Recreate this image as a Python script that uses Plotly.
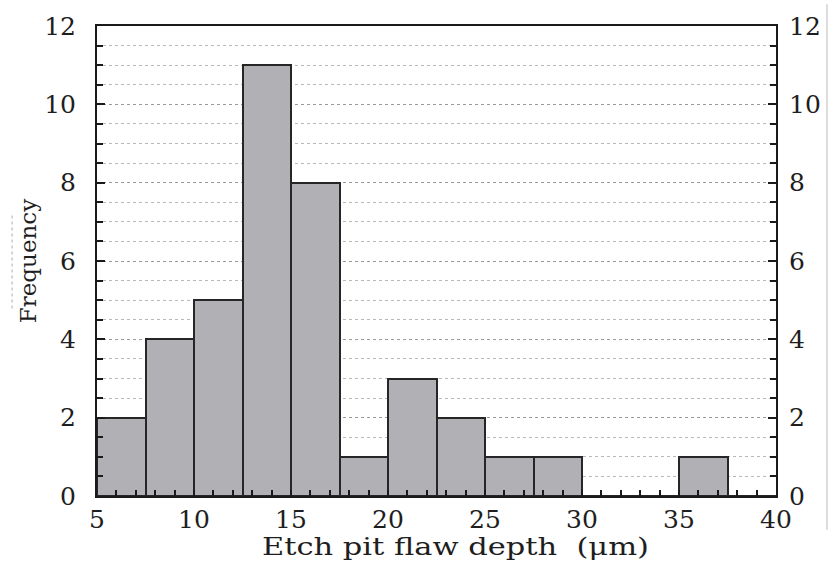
import plotly.graph_objects as go

bin_left = [5, 7.5, 10, 12.5, 15, 17.5, 20, 22.5, 25, 27.5, 30, 32.5, 35, 37.5]
counts = [2, 4, 5, 11, 8, 1, 3, 2, 1, 1, 0, 0, 1, 0]
bin_width = 2.5
x_ticks = [5, 10, 15, 20, 25, 30, 35, 40]
y_ticks = [0, 2, 4, 6, 8, 10, 12]
x_title = "Etch pit flaw depth  (μm)"
y_title = "Frequency"

centers = [b + bin_width / 2 for b in bin_left]

FONT = "DejaVu Serif"
TXT = "#1e1e1e"

fig = go.Figure()
fig.add_trace(go.Bar(
    x=centers, y=counts, width=[bin_width] * len(counts),
    marker=dict(color="#b1b1b5", line=dict(color="#262626", width=2)),
    showlegend=False, hoverinfo="x+y",
))
fig.add_trace(go.Scatter(x=[5, 40], y=[0, 12], yaxis="y2", mode="markers",
                         marker=dict(opacity=0), showlegend=False, hoverinfo="skip"))

L, R, T, B = 97, 56, 22, 67
W, H = 833, 563
pw, ph = W - L - R, H - T - B

def px_x(px):
    return (px - L) / pw

def px_y(py):
    return (H - B - py) / ph

fig.update_layout(
    width=W, height=H,
    margin=dict(l=L, r=R, t=T, b=B),
    plot_bgcolor="white", paper_bgcolor="white",
    bargap=0,
    font=dict(family=FONT, size=25, color=TXT),
    xaxis=dict(
        range=[5, 40], tickvals=x_ticks, ticktext=[str(v) for v in x_ticks],
        showline=True, linecolor="#1a1a1a", linewidth=2, mirror=True,
        ticks="inside", ticklen=6, tickwidth=2, tickcolor="#1a1a1a",
        minor=dict(dtick=1, ticks="inside", ticklen=6, tickwidth=1.5, tickcolor="#1a1a1a", showgrid=False),
        showgrid=False, zeroline=False,
        tickfont=dict(family=FONT, size=25, color=TXT),
    ),
    yaxis=dict(
        range=[0, 12], tickvals=y_ticks,
        showline=True, linecolor="#1a1a1a", linewidth=2, mirror=True,
        ticks="inside", ticklen=8, tickwidth=2, tickcolor="#1a1a1a",
        showgrid=True, gridcolor="#9a9a9a", gridwidth=1, griddash="dot",
        minor=dict(dtick=0.5, ticks="inside", ticklen=6, tickwidth=1.5, tickcolor="#1a1a1a",
                   showgrid=True, gridcolor="#b8b8b8", gridwidth=1, griddash="dot"),
        zeroline=False, ticklabelstandoff=14,
        tickfont=dict(family=FONT, size=25, color=TXT),
        title=dict(text=y_title, font=dict(family=FONT, size=23, color=TXT), standoff=1),
    ),
    yaxis2=dict(
        range=[0, 12], tickvals=y_ticks, overlaying="y", side="right",
        showline=False,
        ticks="inside", ticklen=8, tickwidth=2, tickcolor="#1a1a1a",
        minor=dict(dtick=0.5, ticks="inside", ticklen=6, tickwidth=1.5, tickcolor="#1a1a1a", showgrid=False),
        showgrid=False, zeroline=False, ticklabelstandoff=12,
        tickfont=dict(family=FONT, size=25, color=TXT),
    ),
    annotations=[
        dict(text=x_title, xref="paper", yref="paper", x=px_x(456), y=px_y(547),
             xanchor="center", yanchor="middle", showarrow=False,
             font=dict(family=FONT, size=24, color=TXT)),
    ],
    shapes=[
        dict(type="line", xref="paper", yref="paper",
             x0=px_x(828), x1=px_x(828), y0=px_y(0), y1=px_y(530),
             line=dict(color="#dcdcdc", width=2)),
        dict(type="line", xref="paper", yref="paper",
             x0=px_x(12), x1=px_x(12), y0=px_y(213), y1=px_y(307),
             line=dict(color="#c8c8c8", width=1.5, dash="dot")),
    ],
)

# The reference typography is horizontally stretched; widen the x title.
post = """
var gd = document.getElementById('{plot_id}');
function stretch() {
  var els = gd.querySelectorAll('.annotation-text');
  els.forEach(function (el) {
    el.removeAttribute('transform');
    var bb = el.getBBox();
    var cx = bb.x + bb.width / 2;
    var s = 1.27;
    el.setAttribute('transform', 'matrix(' + s + ',0,0,1,' + (cx - s * cx) + ',0)');
  });
}
stretch();
gd.on('plotly_afterplot', stretch);
"""

fig.write_html("out.html", post_script=post)
